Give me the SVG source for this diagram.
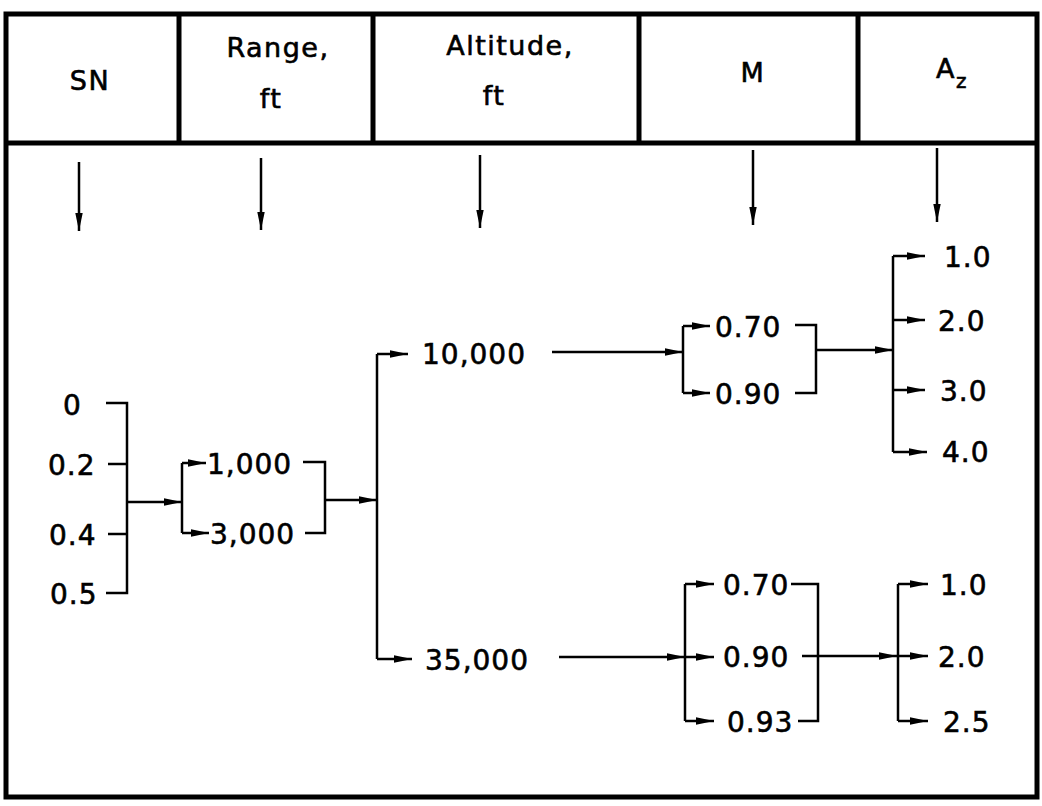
<svg xmlns="http://www.w3.org/2000/svg" width="1042" height="806" viewBox="0 0 1042 806">
<defs>
<marker id="ah" markerUnits="userSpaceOnUse" markerWidth="18" markerHeight="9" refX="18" refY="4.5" orient="auto">
<path d="M0,0.8 L18,4.5 L0,8.2 z" fill="#000"/>
</marker>
<style>
.frame{fill:none;stroke:#000;stroke-width:5}
.div{stroke:#000;stroke-width:5}
.c{fill:none;stroke:#000;stroke-width:2.5}
.a{fill:none;stroke:#000;stroke-width:2.5;marker-end:url(#ah)}
.h{font-family:"DejaVu Sans",sans-serif;font-size:27px;letter-spacing:1.5px;fill:#000;stroke:#000;stroke-width:0.6}
.t{font-family:"DejaVu Sans",sans-serif;font-size:28px;letter-spacing:1px;fill:#000;stroke:#000;stroke-width:0.6}
</style>
</defs>
<rect width="1042" height="806" fill="#fff"/>
<g id="table">
<rect class="frame" x="6" y="14" width="1031" height="783"/>
<line class="div" x1="6" y1="143" x2="1037" y2="143"/>
<line class="div" x1="179" y1="14" x2="179" y2="143"/>
<line class="div" x1="373" y1="14" x2="373" y2="143"/>
<line class="div" x1="639" y1="14" x2="639" y2="143"/>
<line class="div" x1="858" y1="14" x2="858" y2="143"/>
</g>
<g id="hdr-sn"><text class="h" x="90" y="90" text-anchor="middle">SN</text></g>
<g id="hdr-range"><text class="h" x="278" y="57" text-anchor="middle">Range,</text><text class="h" x="271" y="108" text-anchor="middle">ft</text></g>
<g id="hdr-alt"><text class="h" x="510" y="55" text-anchor="middle">Altitude,</text><text class="h" x="494" y="105" text-anchor="middle">ft</text></g>
<g id="hdr-m"><text class="h" x="753" y="82" text-anchor="middle">M</text></g>
<g id="hdr-az"><text class="h" x="936" y="78">A<tspan font-size="20" dy="10">z</tspan></text></g>

<g id="connectors">
<line class="a" x1="79" y1="162" x2="79" y2="231"/>
<line class="a" x1="261" y1="158" x2="261" y2="230"/>
<line class="a" x1="480" y1="155" x2="480" y2="228"/>
<line class="a" x1="753" y1="150" x2="753" y2="225"/>
<line class="a" x1="937" y1="148" x2="937" y2="222"/>
<!-- SN bracket -->
<polyline class="c" points="106,403 127,403 127,593 106,593"/>
<line class="c" x1="108" y1="464" x2="127" y2="464"/>
<line class="c" x1="108" y1="534" x2="127" y2="534"/>
<line class="a" x1="127" y1="502" x2="182" y2="502"/>
<!-- Range -->
<polyline class="c" points="182,463 182,533"/>
<line class="a" x1="182" y1="463" x2="206" y2="463"/>
<line class="a" x1="182" y1="533" x2="209" y2="533"/>
<polyline class="c" points="303,462 325,462 325,533 305,533"/>
<line class="a" x1="325" y1="500" x2="377" y2="500"/>
<!-- Altitude -->
<polyline class="c" points="377,354 377,659"/>
<line class="a" x1="377" y1="354" x2="408" y2="354"/>
<line class="a" x1="377" y1="659" x2="412" y2="659"/>
<line class="a" x1="552" y1="352" x2="683" y2="352"/>
<line class="a" x1="559" y1="657" x2="685" y2="657"/>
<!-- M top -->
<polyline class="c" points="683,326 683,393"/>
<line class="a" x1="683" y1="326" x2="710" y2="326"/>
<line class="a" x1="683" y1="393" x2="710" y2="393"/>
<polyline class="c" points="795,325 816,325 816,393 795,393"/>
<line class="a" x1="816" y1="350" x2="893" y2="350"/>
<!-- Az top -->
<polyline class="c" points="893,256 893,452"/>
<line class="a" x1="893" y1="256" x2="925" y2="256"/>
<line class="a" x1="893" y1="320" x2="925" y2="320"/>
<line class="a" x1="893" y1="390" x2="925" y2="390"/>
<line class="a" x1="893" y1="452" x2="927" y2="452"/>
<!-- M bottom -->
<polyline class="c" points="685,584 685,721"/>
<line class="a" x1="685" y1="584" x2="714" y2="584"/>
<line class="a" x1="685" y1="657" x2="714" y2="657"/>
<line class="a" x1="685" y1="721" x2="714" y2="721"/>
<polyline class="c" points="791,584 818,584 818,721 798,721"/>
<line class="a" x1="802" y1="656" x2="897" y2="656"/>
<!-- Az bottom -->
<polyline class="c" points="898,584 898,721"/>
<line class="a" x1="898" y1="584" x2="928" y2="584"/>
<line class="a" x1="898" y1="656" x2="928" y2="656"/>
<line class="a" x1="898" y1="721" x2="928" y2="721"/>
</g>

<g id="sn-values">
<text class="t" x="63" y="415">0</text>
<text class="t" x="48" y="475">0.2</text>
<text class="t" x="49" y="545">0.4</text>
<text class="t" x="50" y="604">0.5</text>
</g>
<g id="range-values">
<text class="t" x="207" y="474">1,000</text>
<text class="t" x="210" y="544">3,000</text>
</g>
<g id="alt-10000"><text class="t" x="422" y="364">10,000</text></g>
<g id="alt-35000"><text class="t" x="425" y="670">35,000</text></g>
<g id="m-top">
<text class="t" x="715" y="337">0.70</text>
<text class="t" x="715" y="404">0.90</text>
</g>
<g id="az-top">
<text class="t" x="944" y="267">1.0</text>
<text class="t" x="938" y="331">2.0</text>
<text class="t" x="940" y="401">3.0</text>
<text class="t" x="942" y="462">4.0</text>
</g>
<g id="m-bottom">
<text class="t" x="723" y="595">0.70</text>
<text class="t" x="723" y="667">0.90</text>
<text class="t" x="727" y="732">0.93</text>
</g>
<g id="az-bottom">
<text class="t" x="940" y="595">1.0</text>
<text class="t" x="938" y="667">2.0</text>
<text class="t" x="943" y="732">2.5</text>
</g>
</svg>
